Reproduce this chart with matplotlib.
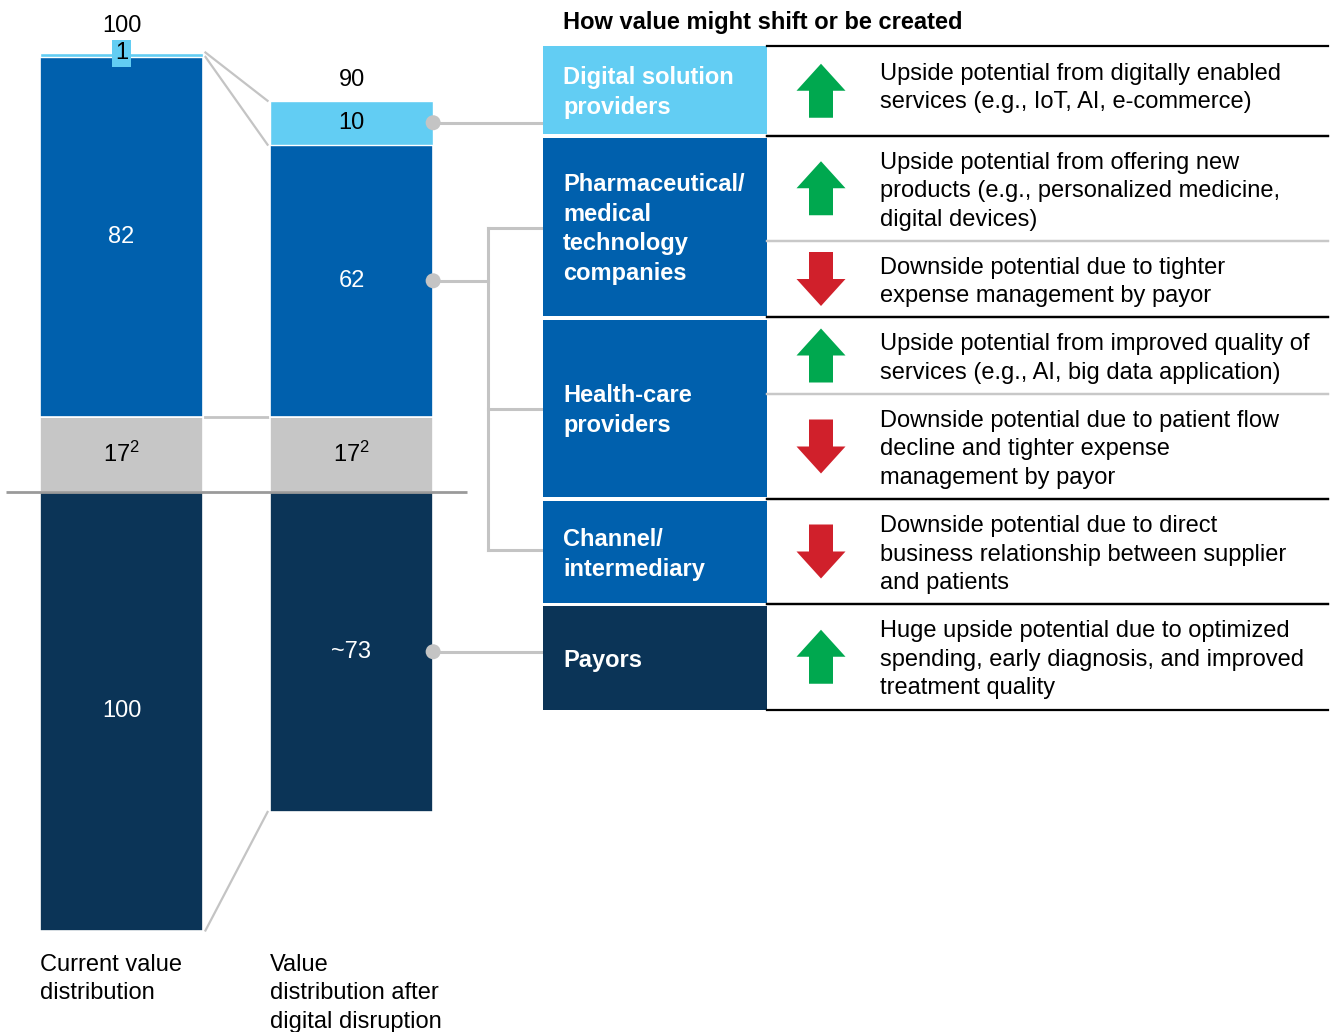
import matplotlib
matplotlib.use("Agg")
import matplotlib.pyplot as plt
from matplotlib.patches import Rectangle, Polygon, Circle

plt.rcParams['font.family'] = ['Liberation Sans', 'DejaVu Sans']
plt.rcParams['mathtext.default'] = 'regular'

# ---- value pools (index = 100 for today's pool) ----
column_labels = ["Current value\ndistribution", "Value\ndistribution after\ndigital disruption"]
other_value = [17, 17]                 # footnote 2
pharma_health_channel = [82, 62]
digital_solutions = [1, 10]
payors = [100, 73]
total_labels = ["100", "90"]
other_labels = ["17$^2$", "17$^2$"]
pharma_labels = ["82", "62"]
digital_labels = ["1", "10"]
payor_labels = ["100", "~73"]

# ---- stakeholder table ----
title = "How value might shift or be created"
stakeholders = ["Digital solution\nproviders",
                "Pharmaceutical/\nmedical\ntechnology\ncompanies",
                "Health-care\nproviders",
                "Channel/\nintermediary",
                "Payors"]
impact_text = ["Upside potential from digitally enabled\nservices (e.g., IoT, AI, e-commerce)",
               "Upside potential from offering new\nproducts (e.g., personalized medicine,\ndigital devices)",
               "Downside potential due to tighter\nexpense management by payor",
               "Upside potential from improved quality of\nservices (e.g., AI, big data application)",
               "Downside potential due to patient flow\ndecline and tighter expense\nmanagement by payor",
               "Downside potential due to direct\nbusiness relationship between supplier\nand patients",
               "Huge upside potential due to optimized\nspending, early diagnosis, and improved\ntreatment quality"]
impact_direction = ["up", "up", "down", "up", "down", "down", "up"]

# ---- colours ----
LIGHT = "#62CDF3"
MID = "#0060AD"
NAVY = "#0B3457"
GRAY = "#C6C6C6"
LINE = "#C4C4C4"
GREEN = "#00A84F"
RED = "#D0202B"
group_colors = [LIGHT, MID, MID, MID, NAVY]

W, H = 1336, 1032
fig = plt.figure(figsize=(W / 100, H / 100), dpi=100)

# bar axes: one data unit = 4.39 px vertically, columns 230 px apart
ax = fig.add_axes([0, 0, 1, 1])
px_per_unit = 4.39
base_px = 491.5
x0_px, dx_px = 121.5, 230.0
ax.set_xlim(-x0_px / dx_px, (W - x0_px) / dx_px)
ax.set_ylim(-(H - base_px) / px_per_unit, base_px / px_per_unit)
ax.axis("off")

# overlay in pixel coordinates for the table and annotations
ov = fig.add_axes([0, 0, 1, 1])
ov.set_xlim(0, W)
ov.set_ylim(H, 0)
ov.axis("off")
ov.patch.set_alpha(0)


def to_px(x, y):
    disp = ax.transData.transform((x, y))
    return ov.transData.inverted().transform(disp)


xs = [0, 1]
bw = 0.71
FS = 17
LS = 1.37

ax.bar(xs, other_value, width=bw, color=GRAY, edgecolor="white", linewidth=1.2, zorder=2)
ax.bar(xs, pharma_health_channel, bottom=other_value, width=bw, color=MID,
       edgecolor="white", linewidth=1.2, zorder=2)
tops_pharma = [o + p for o, p in zip(other_value, pharma_health_channel)]
ax.bar(xs, digital_solutions, bottom=tops_pharma, width=bw, color=LIGHT,
       edgecolor="white", linewidth=1.0, zorder=2)
ax.bar(xs, [-p for p in payors], width=bw, color=NAVY, edgecolor="white", linewidth=1.2, zorder=2)
tops = [t + d for t, d in zip(tops_pharma, digital_solutions)]

# baseline
ax.hlines(0, -0.5, 1.5, color="#9A9A9A", lw=2, zorder=3)

# connectors between the two columns
ex0, ex1 = xs[0] + bw / 2 + 0.01, xs[1] - bw / 2 - 0.01
ax.plot([ex0, ex1], [tops[0], tops[1]], color=LINE, lw=1.6, zorder=1)
ax.plot([ex0, ex1], [tops_pharma[0], tops_pharma[1]], color=LINE, lw=1.6, zorder=1)
ax.plot([ex0, ex1], [other_value[0], other_value[1]], color=LINE, lw=2, zorder=1)
ax.plot([ex0, ex1], [-payors[0], -payors[1]], color=LINE, lw=1.6, zorder=1)

# segment labels
for i, x in enumerate(xs):
    ax.text(x, other_value[i] / 2, other_labels[i], ha="center", va="center",
            fontsize=FS, color="black", zorder=4)
    ax.text(x, other_value[i] + pharma_health_channel[i] / 2, pharma_labels[i],
            ha="center", va="center", fontsize=FS, color="white", zorder=4)
    ax.text(x, -payors[i] / 2, payor_labels[i], ha="center", va="center",
            fontsize=FS, color="white", zorder=4)

# digital solutions labels
ax.text(xs[0], tops_pharma[0] + digital_solutions[0] / 2 + 0.3, digital_labels[0],
        ha="center", va="center", fontsize=FS, color="black", zorder=5,
        bbox=dict(boxstyle="square,pad=0.12", facecolor=LIGHT, edgecolor="none"))
ax.text(xs[1], tops_pharma[1] + digital_solutions[1] / 2, digital_labels[1],
        ha="center", va="center", fontsize=FS, color="black", zorder=4)

# totals above columns
total_offsets = [11.5, 7]
for i, x in enumerate(xs):
    ax.annotate(total_labels[i], (x, tops[i]), xytext=(0, total_offsets[i]),
                textcoords="offset points", ha="center", va="bottom", fontsize=FS)

# column captions
for i, x in enumerate(xs):
    cx, _ = to_px(x - bw / 2, 0)
    ov.text(cx, 954, column_labels[i], ha="left", va="top", fontsize=FS,
            linespacing=LS)

# ---- table ----
box_left, box_right, table_right = 543, 767, 1328
group_bounds = [(46, 133.5), (137.5, 315.5), (319.5, 497), (501, 602.5), (606, 709.5)]
row_bounds = [(46, 135.5), (135.5, 241), (241, 317), (317, 394), (394, 499),
              (499, 604), (604, 709.5)]

ov.text(563, 23, title, ha="left", va="center", fontsize=FS, fontweight="bold")

for g, (y0, y1) in enumerate(group_bounds):
    ov.add_patch(Rectangle((box_left, y0), box_right - box_left, y1 - y0,
                           facecolor=group_colors[g], edgecolor="none", zorder=2))
    ov.text(563, (y0 + y1) / 2 + 2.5, stakeholders[g], ha="left", va="center",
            fontsize=FS, fontweight="bold", color="white", linespacing=LS, zorder=3)

# separators
major = {46, 135.5, 317, 499, 604, 709.5}
for y0, y1 in row_bounds:
    for y in (y0, y1):
        color = "black" if y in major else "#C8C8C8"
        ov.plot([box_right, table_right], [y, y], color=color, lw=1.6, zorder=2)


def arrow(cx, cy, up, color):
    hw, sw, hh = 24.5, 12, 27
    s = -1 if up else 1
    pts = [(cx, cy + s * hh), (cx + hw, cy), (cx + sw, cy), (cx + sw, cy - s * hh),
           (cx - sw, cy - s * hh), (cx - sw, cy), (cx - hw, cy)]
    ov.add_patch(Polygon(pts, closed=True, facecolor=color, edgecolor="none", zorder=3))


for r, (y0, y1) in enumerate(row_bounds):
    cy = (y0 + y1) / 2
    up = impact_direction[r] == "up"
    arrow(821, cy, up, GREEN if up else RED)
    dy = -3 if r == 0 else 3
    ov.text(880, cy + dy, impact_text[r], ha="left", va="center", fontsize=FS,
            linespacing=LS, zorder=3)

# ---- dots and leader lines from the second column ----
edge_x = xs[1] + bw / 2
dot_digital = to_px(edge_x, tops_pharma[1] + digital_solutions[1] / 2)
dot_pharma = to_px(edge_x, other_value[1] + pharma_health_channel[1] / 2)
dot_payor = to_px(edge_x, -payors[1] / 2)

lw_lead = 2.2
ov.plot([dot_digital[0], box_left], [dot_digital[1]] * 2, color=LINE, lw=lw_lead, zorder=1)
ov.plot([dot_payor[0], box_left], [dot_payor[1]] * 2, color=LINE, lw=lw_lead, zorder=1)
bx = 488
ov.plot([dot_pharma[0], bx], [dot_pharma[1]] * 2, color=LINE, lw=lw_lead, zorder=1)
ov.plot([bx, bx], [227.7, 550], color=LINE, lw=lw_lead, zorder=1)
for yb in (227.7, 408.5, 550):
    ov.plot([bx, box_left], [yb, yb], color=LINE, lw=lw_lead, zorder=1)
for d in (dot_digital, dot_pharma, dot_payor):
    ov.add_patch(Circle((d[0], d[1]), 7.5, facecolor=LINE, edgecolor="none", zorder=4))

fig.savefig("out.png", dpi=100)
